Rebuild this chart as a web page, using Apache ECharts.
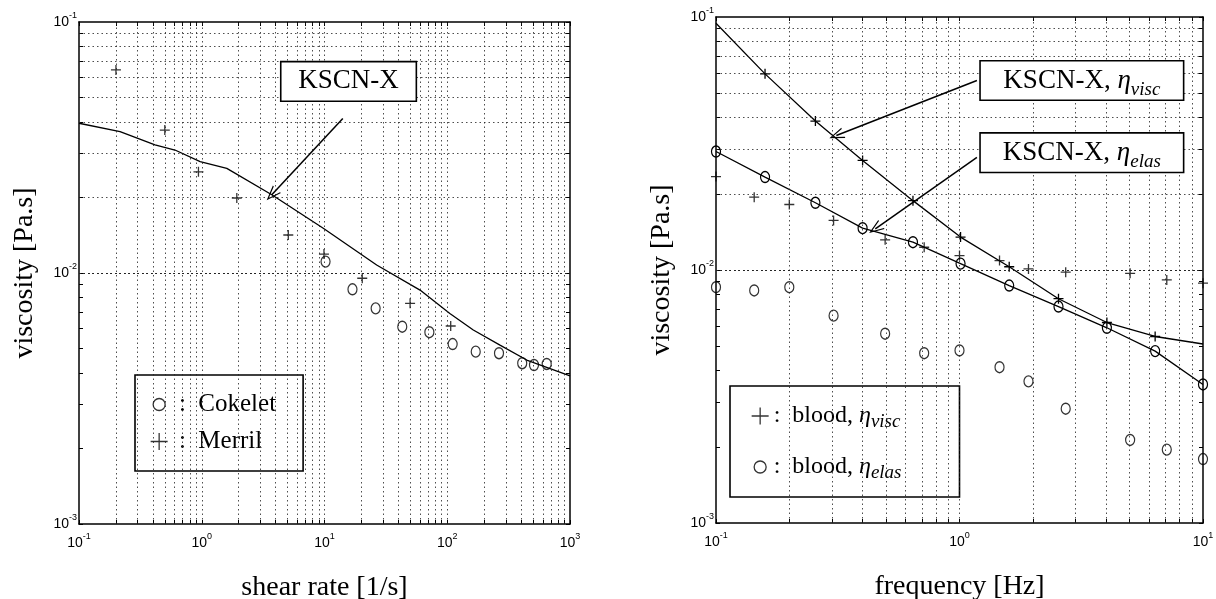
<!DOCTYPE html>
<html><head><meta charset="utf-8">
<script src="https://cdn.jsdelivr.net/npm/echarts@6/dist/echarts.min.js"></script>
<style>html,body{margin:0;padding:0;background:#fff}#c{width:1216px;height:599px}</style>
</head><body><div id="c"></div>
<script>
// ---------- Left panel: viscosity vs shear rate ----------
const cokeletX = [10.2, 16.9, 26.1, 43, 71.5, 110.7, 170.6, 264, 408, 509, 646];
const cokeletY = [0.0111, 0.00861, 0.00723, 0.00611, 0.00581, 0.00521, 0.00486, 0.00479, 0.00437, 0.0043, 0.00434];
const merrilX = [0.2, 0.5, 0.94, 1.93, 5.07, 9.9, 20.3, 49.8, 106.7];
const merrilY = [0.0644, 0.0371, 0.0253, 0.0199, 0.01417, 0.0119, 0.00953, 0.00757, 0.00615];
const kscnX = [0.1, 0.216, 0.416, 0.605, 0.97, 1.6, 3.72, 9.77, 26.6, 60, 105, 163, 269, 444, 1000];
const kscnY = [0.0395, 0.0366, 0.0324, 0.0309, 0.0278, 0.0261, 0.0205, 0.01507, 0.01076, 0.00855, 0.0069, 0.00593, 0.00516, 0.0045, 0.00389];

// ---------- Right panel: viscosity vs frequency ----------
const freqCurve = [0.1, 0.159, 0.256, 0.40, 0.644, 1.01, 1.6, 2.55, 4.03, 6.36, 10];
const kscnViscY = [0.0945, 0.0596, 0.0388, 0.0271, 0.0188, 0.01349, 0.0103, 0.0077, 0.0062, 0.00546, 0.0051];
const kscnElasY = [0.0294, 0.0233, 0.01844, 0.01463, 0.01288, 0.0106, 0.00868, 0.00717, 0.00591, 0.00478, 0.00353];
const bloodX = [0.1, 0.1435, 0.2, 0.304, 0.495, 0.716, 1.0, 1.46, 1.92, 2.73, 5.02, 7.1, 10];
const bloodViscY = [0.0234, 0.0194, 0.01815, 0.0157, 0.01316, 0.0123, 0.0114, 0.0109, 0.0101, 0.0098, 0.0097, 0.00914, 0.00887];
const bloodElasY = [0.00855, 0.0083, 0.00855, 0.0066, 0.0056, 0.00469, 0.00481, 0.00413, 0.00363, 0.00283, 0.00213, 0.00195, 0.00179];

// axis ranges
const xRangeL = [0.1, 1000];
const xRangeR = [0.1, 10];
const yRange = [0.001, 0.1];

// annotations (data coordinates)
const boxL = [15.7, 0.058];
const arrowL = [[14.1, 0.0413], [3.72, 0.0205]];
const boxRVisc = [3.18, 0.0561];
const boxRElas = [3.18, 0.0291];
const arrowRVisc = [[1.179, 0.0561], [0.312, 0.034]];
const arrowRElas = [[1.179, 0.0279], [0.451, 0.01455]];

const zip = (xs, ys) => xs.map((x, i) => [x, ys[i]]);
function logGrid(lo, hi) {
  const out = [];
  const a = Math.round(Math.log10(lo)), b = Math.round(Math.log10(hi));
  for (let d = a; d < b; d++) for (let k = 1; k < 10; k++) {
    if (d === a && k === 1) continue;
    out.push(+(k * Math.pow(10, d)).toPrecision(6));
  }
  return out;
}
const SERIF = 'Liberation Serif';
const SANS = 'Liberation Sans';
const PLUS = 'path://M0,5L10,5M5,0L5,10';
const CHEV = 'path://M6,0L12,14L10.6,14L6,3L1.4,14L0,14Z';
const LEGCIRCLE = 'path://M0,0M17,17M14.5,8.5A6,6,0,1,1,2.5,8.5A6,6,0,1,1,14.5,8.5Z';
const hollow = {color: 'rgba(0,0,0,0)', borderColor: '#000', borderWidth: 1.3};

const tickRich = {
  b: {fontFamily: SANS, fontSize: 14, lineHeight: 22, color: '#000'},
  e: {fontFamily: SANS, fontSize: 9, lineHeight: 10, verticalAlign: 'top', color: '#000'}
};
const powLabel = v => '{b|10}{e|' + Math.round(Math.log10(v)) + '}';

function axisPair(kind, gridIndex, range, name, labelled, position) {
  const gv = logGrid(range[0], range[1]).concat([range[0], range[1]]);
  const base = {
    type: 'log', logBase: 10, min: range[0], max: range[1], gridIndex: gridIndex,
    position: position,
    axisLine: {show: true, onZero: false, lineStyle: {color: '#000', width: 1.5}},
    axisTick: {show: true, inside: true, length: 4, customValues: gv, lineStyle: {color: '#000', width: 1}},
    splitLine: {show: false}, minorTick: {show: false}, minorSplitLine: {show: false},
    axisLabel: labelled ? {show: true, formatter: powLabel, rich: tickRich, margin: kind === 'x' ? 8 : 2} : {show: false}
  };
  if (labelled) {
    base.name = name;
    base.nameLocation = 'middle';
    base.nameGap = kind === 'x' ? 50 : 40;
    base.nameTextStyle = {fontFamily: SERIF, fontSize: 28, color: '#000'};
  }
  return base;
}

function gridSeries(xi, yi, xr, yr) {
  const data = logGrid(xr[0], xr[1]).map(v => ({xAxis: v}))
    .concat(logGrid(yr[0], yr[1]).map(v => ({yAxis: v})));
  return {
    type: 'line', xAxisIndex: xi, yAxisIndex: yi, data: [], z: 1, silent: true,
    markLine: {silent: true, symbol: ['none', 'none'], animation: false, label: {show: false},
      lineStyle: {type: [1.5, 3], color: '#222', width: 1, opacity: 0.8}, emphasis: {disabled: true}, data: data}
  };
}

function arrowLine(pts) {
  return [{coord: pts[0], symbol: 'none'}, {coord: pts[1], symbol: CHEV, symbolSize: [11, 15]}];
}

const boxLabel = {backgroundColor: '#fff', borderColor: '#000', borderWidth: 1.6, align: 'center', verticalAlign: 'middle'};
const etaRich = {
  t: {fontFamily: SERIF, fontSize: 27, color: '#000'},
  eta: {fontFamily: SERIF, fontSize: 27, fontStyle: 'italic', color: '#000'},
  sub: {fontFamily: SERIF, fontSize: 19, fontStyle: 'italic', color: '#000', lineHeight: 14, verticalAlign: 'bottom'}
};

const option = {
  animation: false,
  textStyle: {fontFamily: SERIF},
  grid: [
    {left: 79, top: 22, width: 491, height: 502, containLabel: false, outerBoundsMode: 'none'},
    {left: 716, top: 17, width: 487, height: 506, containLabel: false, outerBoundsMode: 'none'}
  ],
  xAxis: [
    axisPair('x', 0, xRangeL, 'shear rate [1/s]', true, 'bottom'),
    axisPair('x', 0, xRangeL, '', false, 'top'),
    axisPair('x', 1, xRangeR, 'frequency [Hz]', true, 'bottom'),
    axisPair('x', 1, xRangeR, '', false, 'top')
  ],
  yAxis: [
    axisPair('y', 0, yRange, 'viscosity [Pa.s]', true, 'left'),
    axisPair('y', 0, yRange, '', false, 'right'),
    axisPair('y', 1, yRange, 'viscosity [Pa.s]', true, 'left'),
    axisPair('y', 1, yRange, '', false, 'right')
  ],
  legend: [
    {
      left: 135, top: 375, orient: 'vertical', selectedMode: false,
      data: [{name: 'Cokelet', icon: LEGCIRCLE}, {name: 'Merril', icon: PLUS}],
      itemWidth: 17, itemHeight: 17, itemGap: 12,
      padding: [17, 27, 17, 15],
      backgroundColor: '#fff', borderColor: '#000', borderWidth: 1.6,
      itemStyle: {color: 'rgba(0,0,0,0)', borderColor: '#000', borderWidth: 1.3},
      textStyle: {fontFamily: SERIF, fontSize: 25, color: '#000', lineHeight: 25},
      formatter: n => ' :  ' + n
    },
    {
      left: 730, top: 386, orient: 'vertical', selectedMode: false,
      data: [{name: 'blood, ηvisc', icon: PLUS}, {name: 'blood, ηelas', icon: LEGCIRCLE}],
      itemWidth: 17, itemHeight: 17, itemGap: 21,
      padding: [15, 58, 15, 21],
      backgroundColor: '#fff', borderColor: '#000', borderWidth: 1.6,
      itemStyle: {color: 'rgba(0,0,0,0)', borderColor: '#000', borderWidth: 1.3},
      textStyle: {fontFamily: SERIF, fontSize: 24, color: '#000', lineHeight: 30,
        rich: {
          t: {fontFamily: SERIF, fontSize: 24, color: '#000'},
          eta: {fontFamily: SERIF, fontSize: 24, fontStyle: 'italic', color: '#000'},
          sub: {fontFamily: SERIF, fontSize: 19, fontStyle: 'italic', color: '#000', lineHeight: 14, verticalAlign: 'bottom'}
        }},
      formatter: n => '{t|:  blood, }{eta|η}{sub|' + (n.indexOf('visc') >= 0 ? 'visc' : 'elas') + '}'
    }
  ],
  series: [
    gridSeries(0, 0, xRangeL, yRange),
    gridSeries(2, 2, xRangeR, yRange),
    {
      name: 'KSCN-X', type: 'line', xAxisIndex: 0, yAxisIndex: 0, z: 3,
      data: zip(kscnX, kscnY), showSymbol: false, silent: true,
      lineStyle: {color: '#000', width: 1.3},
      markLine: {silent: true, animation: false, label: {show: false},
        lineStyle: {type: 'solid', color: '#000', width: 1.5}, data: [arrowLine(arrowL)]},
      markPoint: {silent: true, animation: false, symbol: 'rect', symbolSize: 1, itemStyle: {color: 'rgba(0,0,0,0)'},
        label: Object.assign({show: true, position: 'inside', formatter: 'KSCN-X', fontFamily: SERIF, fontSize: 27,
          color: '#000', width: 134, height: 38, lineHeight: 38}, boxLabel),
        data: [{coord: boxL}]}
    },
    {
      name: 'Cokelet', type: 'scatter', xAxisIndex: 0, yAxisIndex: 0, z: 4,
      data: zip(cokeletX, cokeletY), symbol: 'circle', symbolSize: [9, 11], itemStyle: hollow
    },
    {
      name: 'Merril', type: 'scatter', xAxisIndex: 0, yAxisIndex: 0, z: 4,
      data: zip(merrilX, merrilY), symbol: PLUS, symbolSize: 10, itemStyle: hollow
    },
    {
      name: 'KSCN-X, ηvisc', type: 'line', xAxisIndex: 2, yAxisIndex: 2, z: 3,
      data: zip(freqCurve, kscnViscY).map((p, i, a) => (i === 0 || i === a.length - 1) ? {value: p, symbol: 'none'} : {value: p}),
      symbol: PLUS, symbolSize: 10, showAllSymbol: true, itemStyle: hollow, silent: true,
      lineStyle: {color: '#000', width: 1.3},
      markLine: {silent: true, animation: false, label: {show: false},
        lineStyle: {type: 'solid', color: '#000', width: 1.5}, data: [arrowLine(arrowRVisc), arrowLine(arrowRElas)]},
      markPoint: {silent: true, animation: false, symbol: 'rect', symbolSize: 1, itemStyle: {color: 'rgba(0,0,0,0)'},
        label: Object.assign({show: true, position: 'inside', fontFamily: SERIF, fontSize: 27, color: '#000',
          width: 202, height: 38, lineHeight: 38, rich: etaRich}, boxLabel),
        data: [
          {coord: boxRVisc, label: {formatter: '{t|KSCN-X, }{eta|η}{sub|visc}'}},
          {coord: boxRElas, label: {formatter: '{t|KSCN-X, }{eta|η}{sub|elas}'}}
        ]}
    },
    {
      name: 'KSCN-X, ηelas', type: 'line', xAxisIndex: 2, yAxisIndex: 2, z: 3,
      data: zip(freqCurve, kscnElasY), symbol: 'circle', symbolSize: [9, 11], showAllSymbol: true,
      itemStyle: hollow, silent: true, lineStyle: {color: '#000', width: 1.3}
    },
    {
      name: 'blood, ηvisc', type: 'scatter', xAxisIndex: 2, yAxisIndex: 2, z: 4,
      data: zip(bloodX, bloodViscY), symbol: PLUS, symbolSize: 10, itemStyle: hollow
    },
    {
      name: 'blood, ηelas', type: 'scatter', xAxisIndex: 2, yAxisIndex: 2, z: 4,
      data: zip(bloodX, bloodElasY), symbol: 'circle', symbolSize: [9, 11], itemStyle: hollow
    }
  ]
};
const chart = echarts.init(document.getElementById('c'), null, {renderer: 'canvas'});
chart.setOption(option);
</script>
</body></html>
